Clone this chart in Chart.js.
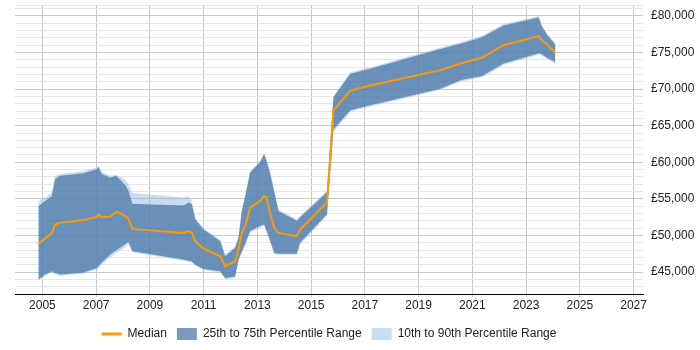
<!DOCTYPE html>
<html>
<head>
<meta charset="utf-8">
<script src="https://cdn.jsdelivr.net/npm/chart.js@4"></script>
<style>
  html, body { margin: 0; padding: 0; background: #fff; }
  #wrap { width: 700px; height: 350px; }
</style>
</head>
<body>
<div id="wrap"><canvas id="chart" width="700" height="350"></canvas></div>
<script>
// decimal years where the series change direction
const years = [2004.85, 2005.10, 2005.35, 2005.47, 2005.66, 2006.53, 2007.03, 2007.08, 2007.21, 2007.52,
    2007.74, 2007.92, 2008.08, 2008.20, 2008.35, 2010.25, 2010.44, 2010.56, 2010.69, 2011.00,
    2011.62, 2011.80, 2012.17, 2012.30, 2012.42, 2012.55, 2012.73, 2013.10, 2013.25, 2013.33,
    2013.48, 2013.63, 2013.79, 2014.47, 2014.59, 2015.59, 2015.83, 2016.46, 2017.20, 2019.81,
    2020.55, 2021.36, 2022.16, 2023.47, 2023.57, 2023.78, 2024.09];

const median = [48850, 49600, 50300, 51500, 51750, 52100, 52550, 52850, 52500, 52550,
    53200, 53000, 52650, 52300, 50900, 50350, 50600, 50350, 49200, 48200,
    47150, 45800, 46450, 48100, 50350, 51300, 53800, 54700, 55400, 55250,
    52900, 51000, 50350, 49900, 50800, 54500, 67100, 69800, 70500, 72600,
    73500, 74300, 76000, 77250, 76750, 76100, 74900];

const p25 = [43950, 44650, 45100, 44900, 44650, 44950, 45550, 45800, 46300, 47400,
    47950, 48400, 48800, 49100, 47850, 46700, 46550, 46450, 46000, 45400,
    45100, 44200, 44400, 46700, 47800, 48900, 50600, 51300, 51500, 50800,
    49200, 47600, 47500, 47500, 49000, 52900, 64500, 67100, 67800, 70060,
    71200, 71800, 73500, 74900, 74800, 74300, 73700];

const p75 = [54000, 54700, 55400, 57700, 58150, 58500, 59050, 59400, 58400, 57900,
    58150, 57500, 56900, 56100, 54350, 54100, 54500, 54250, 52200, 50800,
    49200, 47150, 48300, 49700, 53300, 55400, 58600, 60000, 61100, 60300,
    58400, 55900, 53300, 52000, 52500, 55900, 68900, 72100, 72800, 75500,
    76200, 77100, 78700, 79800, 78700, 77400, 76100];

const p10 = [43850, 44500, 44950, 44700, 44500, 44800, 45350, 45600, 46000, 47000,
    47600, 48000, 48400, 48800, 47700, 46550, 46400, 46300, 45850, 45250,
    44950, 44000, 44200, 46500, 47600, 48600, 50400, 51000, 51300, 50600,
    49000, 47450, 47350, 47350, 48800, 52700, 64100, 66900, 67600, 69900,
    71000, 71600, 73300, 74700, 74600, 74100, 73500];

const p90 = [54700, 55200, 55900, 58150, 58400, 58800, 59300, 59550, 58700, 58150,
    58300, 58000, 57600, 57000, 55800, 55200, 55400, 54700, 52400, 51000,
    49400, 47400, 48500, 49900, 53500, 55600, 58800, 60200, 61300, 60500,
    58600, 56100, 53500, 52200, 52700, 56100, 69100, 72300, 73000, 75700,
    76400, 77300, 78900, 80000, 78900, 77600, 76300];

const yearTicks = [2005, 2007, 2009, 2011, 2013, 2015, 2017, 2019, 2021, 2023, 2025, 2027];

const yMin = 42000;
const yMax = 81500;
const yStep = 1000;

const orange = "rgb(255,153,0)";
const dark = "rgba(65,112,162,0.7)";
const light = "rgba(150,188,226,0.5)";
const font = {family: 'Liberation Sans, Arial, sans-serif', size: 12};

const pts = (vals) => years.map((x, i) => ({x: x, y: vals[i]}));

const band = (label, vals, colour, fill) => ({
    label: label,
    data: pts(vals),
    borderWidth: 0,
    borderColor: colour,
    backgroundColor: colour,
    pointRadius: 0,
    fill: fill
});

const data = {
    datasets: [
        {
            label: 'Median',
            data: pts(median),
            borderColor: orange,
            backgroundColor: orange,
            borderWidth: 2,
            pointRadius: 0,
            fill: false
        },
        band('25th to 75th Percentile Range', p75, dark, '+1'),
        band('', p25, dark, false),
        band('10th to 90th Percentile Range', p90, light, '+1'),
        band('', p10, light, false)
    ]
};

// centre the legend under the plot area rather than the whole canvas
const legendUnderPlot = {
    id: 'legendUnderPlot',
    afterLayout(chart) {
        if (chart.legend) {
            chart.legend.left = chart.chartArea.left;
            chart.legend.right = chart.chartArea.right;
        }
    }
};

const config = {
    type: 'line',
    data: data,
    plugins: [legendUnderPlot],
    options: {
        responsive: false,
        animation: false,
        layout: {padding: {left: 15, top: 5, right: 6, bottom: 0}},
        font: font,
        plugins: {
            tooltip: {enabled: false},
            legend: {
                position: 'bottom',
                labels: {
                    color: '#222',
                    font: font,
                    usePointStyle: true,
                    pointStyleWidth: 20,
                    boxWidth: 20,
                    boxHeight: 12,
                    padding: 10,
                    generateLabels: (chart) => chart.data.datasets
                        .map((ds, i) => ({ds, i}))
                        .filter(o => o.ds.label)
                        .map(o => ({
                            text: o.ds.label,
                            datasetIndex: o.i,
                            fillStyle: o.ds.backgroundColor,
                            strokeStyle: o.ds.borderColor,
                            lineWidth: o.i === 0 ? 3 : 0,
                            pointStyle: o.i === 0 ? 'line' : 'rect',
                            fontColor: '#222',
                            hidden: false
                        }))
                }
            }
        },
        scales: {
            x: {
                type: 'linear',
                min: 2003.98,
                max: 2027.35,
                afterBuildTicks: (scale) => {
                    scale.ticks = yearTicks.map(v => ({value: v}));
                },
                afterFit: (scale) => {
                    scale.height = 24;
                    scale.paddingLeft = 0;
                    scale.paddingRight = 0;
                },
                grid: {color: '#c8c8c8', tickLength: 3},
                border: {color: '#000', width: 1},
                ticks: {
                    color: '#222',
                    padding: 1,
                    maxRotation: 0,
                    autoSkip: false,
                    font: font,
                    callback: (v) => String(v)
                }
            },
            y: {
                position: 'right',
                min: yMin,
                max: yMax,
                afterBuildTicks: (scale) => {
                    const t = [];
                    for (let v = yMin; v <= yMax; v += yStep) t.push({value: v});
                    if (t[t.length - 1].value !== yMax) t.push({value: yMax});
                    scale.ticks = t;
                },
                afterFit: (scale) => {
                    scale.width = 51;
                    scale.paddingTop = 0;
                    scale.paddingBottom = 0;
                },
                grid: {
                    drawTicks: false,
                    color: (ctx) => ctx.tick && ctx.tick.value % 5000 === 0 ? '#c8c8c8' : '#e6e6e6'
                },
                border: {display: false},
                ticks: {
                    autoSkip: false,
                    padding: 8,
                    color: '#222',
                    font: font,
                    callback: (v) => v % 5000 === 0 ? '£' + v.toLocaleString('en-GB') : ''
                }
            }
        }
    }
};

new Chart(document.getElementById('chart'), config);
</script>
</body>
</html>
